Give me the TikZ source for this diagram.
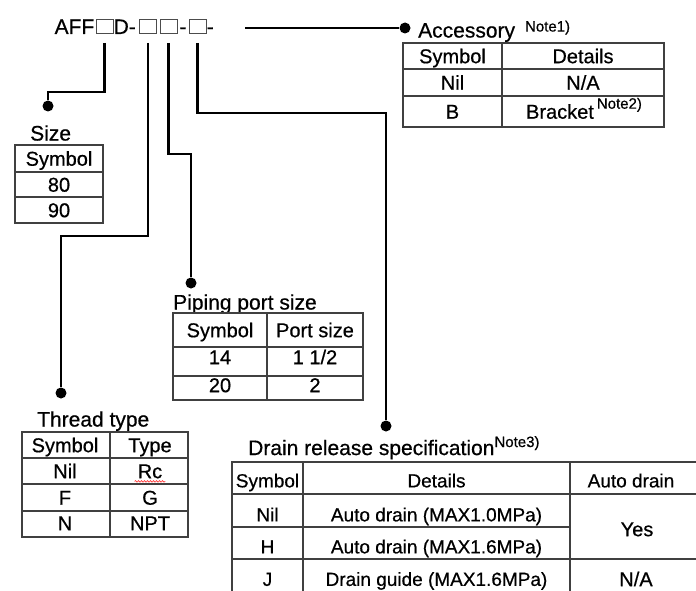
\documentclass[tikz,border=0pt]{standalone}
\usepackage{fontspec}
\setmainfont{Liberation Sans}[FakeBold=0.6]
\usetikzlibrary{positioning, calc, decorations.pathmorphing}
\tikzset{
    lead/.style={line width=2.8pt, color=black},
    rule/.style={line width=1.2pt, draw=black!75},
    slot/.style={draw=black!70, line width=1pt, minimum width=17pt, minimum height=13.5pt, inner sep=0pt},
    dot/.style={circle, fill=black, inner sep=0pt, minimum size=11pt},
    heading/.style={font=\fontsize{21}{24}\selectfont, inner sep=0pt, anchor=west, text height=15.1pt, text depth=0pt},
    cell/.style={font=\fontsize{20}{22}\selectfont, inner sep=0pt, text height=14.4pt, text depth=0pt},
    smallcell/.style={font=\fontsize{19}{21}\selectfont, inner sep=0pt, text height=13.7pt, text depth=0pt},
    code/.style={font=\fontsize{21}{24}\selectfont, inner sep=0pt},
}
\newcommand{\notemark}[2]{\raisebox{#1}{\fontsize{15}{15}\selectfont #2}}

\begin{document}
\begin{tikzpicture}[x=1pt, y=-1pt]
    \useasboundingbox (0,0) rectangle (696,591);
    % Model code
    \node[slot] (b1) at (104.5,26.7) {};
    \node[slot] (b2) at (148,26.7) {};
    \node[slot] (b3) at (168.5,26.7) {};
    \node[slot] (b4) at (197.5,26.7) {};
    \node[code, anchor=base east] (aff) at ($(b1.south west)+(-1,0)$) {AFF};
    \node[code, anchor=base west] (dd) at (b1.south east) {D-};
    \node[code, anchor=base] (dash1) at ($(b3.south east)!0.5!(b4.south west)$) {-};
    \node[code, anchor=base west] (dash2) at (b4.south east) {-};

    % Dots
    \node[dot] (dsize) at (48,106) {};
    \node[dot] (dthr) at (61,393) {};
    \node[dot] (dpipe) at (191,283) {};
    \node[dot] (ddrain) at (386,426) {};
    \node[dot] (dacc) at (405,28) {};

    % Leaders
    \coordinate (k1) at (48,92);
    \coordinate (k2) at (61,236);
    \coordinate (k3) at (191,154);
    \coordinate (k4) at (386,113);
    \coordinate (acc0) at (245,28);
    \draw[lead, shorten <=9pt] (b1.south) |- (k1) -- (dsize);
    \draw[lead, shorten <=9pt] (b2.south) |- (k2) -- (dthr);
    \draw[lead, shorten <=9pt] (b3.south) |- (k3) -- (dpipe);
    \draw[lead, shorten <=9pt] (b4.south) |- (k4) -- (ddrain);
    \draw[lead] (acc0) -- (dacc);

    % Accessory
    \node[heading] (tacc) at (418,30) {Accessory\hspace{10pt}\notemark{6pt}{Note1)}};
    \draw[rule] (403,43) rectangle (664,127);
    \foreach \y in {69,96} \draw[rule] (403,\y) -- (664,\y);
    \draw[rule] (502,43) -- (502,127);
    \node[cell] (ach) at (452.5,56) {Symbol};
    \node[cell] (acd) at (583,56) {Details};
    \node[cell] (acn) at (452.5,82.5) {Nil};
    \node[cell] (acna) at (583,82.5) {N/A};
    \node[cell] (acb) at (452.5,111.5) {B};
    \node[cell] (acbr) at (584,111.5) {Bracket\hspace{3pt}\notemark{10pt}{Note2)}};

    % Size
    \node[heading] (tsize) at (30,133) {Size};
    \draw[rule] (15,145) rectangle (103,223);
    \foreach \y in {172,197} \draw[rule] (15,\y) -- (103,\y);
    \node[cell] (szh) at (59,158.5) {Symbol};
    \node[cell] (sz80) at (59,184.5) {80};
    \node[cell] (sz90) at (59,210) {90};

    % Piping port size
    \node[heading] (tpipe) at (173,302) {Piping port size};
    \draw[rule] (173,313) rectangle (363,400);
    \foreach \y in {347,376} \draw[rule] (173,\y) -- (363,\y);
    \draw[rule] (267,313) -- (267,400);
    \node[cell] (pph) at (220,330) {Symbol};
    \node[cell] (pps) at (315,330) {Port size};
    \node[cell] (pp14) at (220,357) {14};
    \node[cell] (pp14s) at (315,357) {1 1/2};
    \node[cell] (pp20) at (220,385) {20};
    \node[cell] (pp20s) at (315,385) {2};

    % Thread type
    \node[heading] (tthr) at (37,419) {Thread type};
    \draw[rule] (22,432) rectangle (188,537);
    \foreach \y in {458,484,511} \draw[rule] (22,\y) -- (188,\y);
    \draw[rule] (110,432) -- (110,537);
    \node[cell] (thh) at (65,445) {Symbol};
    \node[cell] (tht) at (150,445) {Type};
    \node[cell] (thn) at (65,471) {Nil};
    \node[cell] (thrc) at (150,471) {Rc};
    \node[cell] (thf) at (65,497.5) {F};
    \node[cell] (thg) at (150,497.5) {G};
    \node[cell] (thnn) at (65,523) {N};
    \node[cell] (thnpt) at (150,523) {NPT};
    \draw[red!80, line width=0.6pt, decorate, decoration={snake, amplitude=0.8pt, segment length=3pt}]
        ($(thrc.south west)+(-3,3)$) -- ($(thrc.south east)+(3,3)$);

    % Drain release specification
    \node[heading] (tdrain) at (248,447.5) {Drain release specification\notemark{8pt}{Note3)}};
    \draw[rule] (232,598) -- (232,462) -- (699,462);
    \draw[rule] (303,462) -- (303,598);
    \draw[rule] (570,462) -- (570,598);
    \draw[rule] (232,494) -- (699,494);
    \draw[rule] (232,527) -- (570,527);
    \draw[rule] (232,559) -- (699,559);
    \node[smallcell] (drh) at (267.5,480.5) {Symbol};
    \node[smallcell] (drd) at (436.5,480.5) {Details};
    \node[smallcell] (dra) at (631,480.5) {Auto drain};
    \node[smallcell] (drn) at (267.5,514.5) {Nil};
    \node[smallcell] (drn2) at (436.5,514.5) {Auto drain (MAX1.0MPa)};
    \node[smallcell] (drh2) at (267.5,546.5) {H};
    \node[smallcell] (drh3) at (436.5,546.5) {Auto drain (MAX1.6MPa)};
    \node[cell] (dryes) at (637,529) {Yes};
    \node[smallcell] (drj) at (267.5,579) {J};
    \node[smallcell] (drj2) at (436.5,579) {Drain guide (MAX1.6MPa)};
    \node[cell] (drna) at (636,579) {N/A};
\end{tikzpicture}
\end{document}
